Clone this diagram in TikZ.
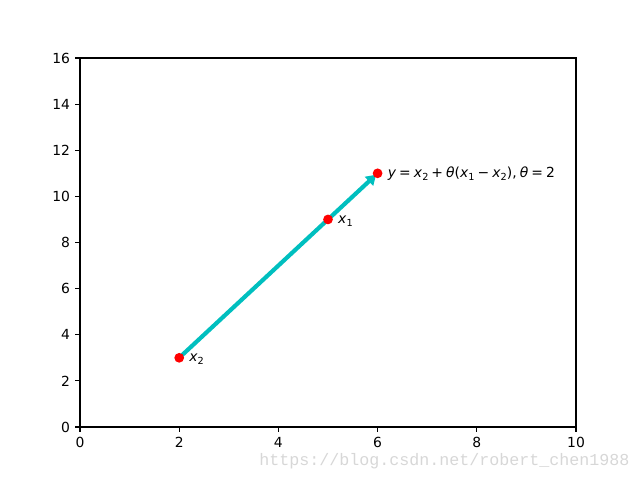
\documentclass[tikz,border=0pt]{standalone}
\usepackage{fontspec}
\setmainfont{DejaVu Sans}
\setmonofont{Liberation Mono}
\usetikzlibrary{arrows.meta}
\definecolor{mplcyan}{rgb}{0,0.75,0.75}
\definecolor{wmgray}{RGB}{215,215,215}
\newcommand{\sbs}[1]{\raisebox{-0.22em}{\fontsize{7}{8}\selectfont #1}}
\newcommand{\ms}{\hspace{2.2pt}}
\begin{document}
\begin{tikzpicture}[x=35.712pt,y=16.605pt,
  spine/.style={line width=0.8pt},
  tick/.style={line width=0.8pt},
  ticklabel/.style={font=\fontsize{10}{12}\selectfont, inner sep=0pt},
  dot/.style={circle,fill=red,inner sep=0pt,minimum size=7pt},
  lab/.style={anchor=base west, font=\fontsize{10}{12}\selectfont, inner sep=0pt},
  vec/.style={mplcyan, line width=3pt, -{Triangle[length=7pt,width=8.5pt]}, shorten >=1.5pt}]
\useasboundingbox (-1.6129,-2.2981) rectangle (11.2903,18.5149);
\draw[spine] (0,0) rectangle (10,16);
\foreach \v in {0,2,...,10}{
  \draw[tick] (\v,0) -- ++(0,-3.5pt);
  \node[ticklabel,anchor=north] at ([yshift=-7pt]\v,0) {\v};
}
\foreach \v in {0,2,...,16}{
  \draw[tick] (0,\v) -- ++(-3.5pt,0);
  \node[ticklabel,anchor=east] at ([xshift=-7pt]0,\v) {\v};
}
\coordinate (c2) at (2,3);
\coordinate (c1) at (5,9);
\coordinate (cy) at (6,11);
\draw[vec] (c2) -- (cy);
\node[dot] (p2) at (c2) {};
\node[dot] (p1) at (c1) {};
\node[dot] (py) at (cy) {};
\node[lab] (l2) at ([yshift=-2.9pt]2.2,3) {\textit{x}\sbs{2}};
\node[lab] (l1) at ([yshift=-2.9pt]5.2,9) {\textit{x}\sbs{1}};
\node[lab] (ly) at ([yshift=-2.9pt]6.2,11) {\textit{y}\ms=\ms\textit{x}\sbs{2}\ms+\ms\textit{θ}(\textit{x}\sbs{1}\ms−\ms\textit{x}\sbs{2}),\ms\textit{θ}\ms=\ms2};
\node[anchor=base west, inner sep=0pt, text=wmgray, font=\ttfamily\fontsize{12}{14}\selectfont] (wm) at (3.609,-1.648) {https://blog.csdn.net/robert\_chen1988};
\end{tikzpicture}
\end{document}
